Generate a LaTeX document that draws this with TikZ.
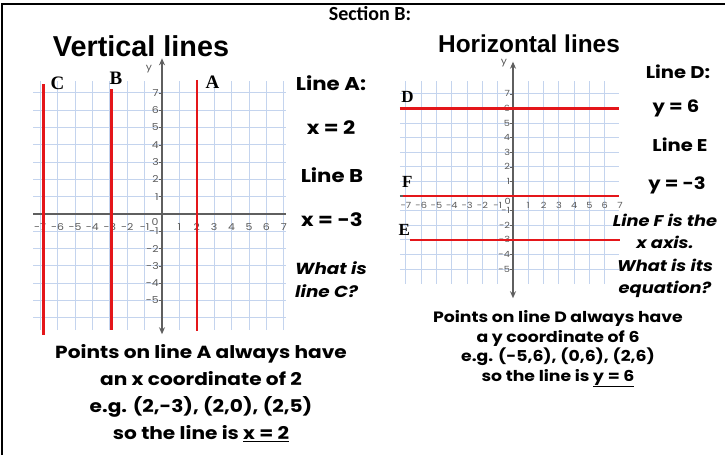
\documentclass[tikz,border=0pt]{standalone}
\usepackage{fontspec}
\setmainfont{Liberation Sans}
\newfontfamily\gothic{Poppins}[FakeStretch=1.15]
\newfontfamily\calib{Carlito}
\newfontfamily\letterfont{Liberation Serif}
\usetikzlibrary{arrows.meta}

\definecolor{gridblue}{RGB}{196,212,238}
\definecolor{plotred}{RGB}{228,22,26}
\definecolor{axisgray}{RGB}{95,95,95}

\tikzset{
  gridline/.style={draw=gridblue, line width=0.9pt},
  axisline/.style={draw=axisgray, line width=1.3pt},
  redline/.style={draw=plotred, line width=2.6pt},
  ticklabel/.style={font=\gothic\fontsize{9.5}{10}\selectfont, text=black!65, inner sep=0.5pt},
  letterlabel/.style={font=\letterfont\bfseries\fontsize{19}{19}\selectfont, inner sep=0pt},
  titletext/.style={font=\bfseries\fontsize{#1}{#1}\selectfont, anchor=base, inner sep=0pt},
  sidetext/.style={font=\gothic\bfseries\fontsize{18.5}{20}\selectfont, inner sep=0pt},
  notetext/.style={font=\gothic\bfseries\fontsize{17.5}{27}\selectfont, align=center, inner sep=0pt},
}

\begin{document}
\begin{tikzpicture}[x=1pt,y=-1pt]
  \useasboundingbox (0,0) rectangle (725,455);
  \draw[line width=2.5pt] (2,455) -- (2,4) -- (725,4);
  \node[font=\calib\bfseries\fontsize{20}{20}\selectfont, anchor=base, inner sep=0pt] (section) at (370,20) {Section B:};

  % vertical lines graph
  \node[titletext=28.8] (vtitle) at (141,56.5) {Vertical lines};
  \begin{scope}[shift={(162,214)}, x=17.4pt, y=17.3pt]
    \foreach \i in {-7,...,7} \draw[gridline] (\i,-6.7) -- (\i,7.7);
    \foreach \j in {-6,...,7} \draw[gridline] (-7.4,\j) -- (7.1,\j);
    \draw[axisline] (-7.4,0) -- (7.1,0);
    \draw[axisline, -{Stealth[length=7pt,width=6pt]}] (0,0) -- (0,9.0);
    \draw[axisline, -{Stealth[length=7pt,width=6pt]}] (0,0) -- (0,-6.95);
    \node[ticklabel] (vy) at (-0.75,8.4) {y};
    \foreach \i in {-7,...,-1,1,2,...,7} \node[ticklabel] at (\i,-0.75) {\i};
    \foreach \j in {-5,...,-1,1,2,...,7} {
      \draw[axisgray, line width=0.6pt] (-0.2,\j) -- (0,\j);
      \node[ticklabel, left] at (-0.15,\j) {\j};
    }
    \node[ticklabel] (vzero) at (-0.4,-0.45) {0};
    \draw[redline] (-6.8,7.5) -- (-6.8,-7.0);
    \draw[redline] (-2.9,7.2) -- (-2.9,-6.7);
    \draw[redline] (2,7.75) -- (2,-6.75);
    \node[letterlabel] (lineC) at (-6.0,7.55) {C};
    \node[letterlabel] (lineB) at (-2.65,7.85) {B};
    \node[letterlabel] (lineA) at (2.9,7.6) {A};
  \end{scope}

  \node[sidetext] (lineAtxt) at (331,83) {Line A:};
  \node[sidetext] (xtwo) at (331,128) {x = 2};
  \node[sidetext] (lineBtxt) at (332,175) {Line B};
  \node[sidetext] (xminus) at (332,220) {x = -3};
  \node[sidetext, font=\gothic\bfseries\itshape\fontsize{16}{20}\selectfont, align=left] (whatC) at (331,280)
    {What is\\[3pt]line C?};

  \node[notetext] (noteA) at (201,393)
    {Points on line A always have\\ an x coordinate of 2\\ e.g. (2,-3), (2,0), (2,5)\\ so the line is \underline{x = 2}};

  % horizontal lines graph
  \node[titletext=24.4] (htitle) at (529,52) {Horizontal lines};
  \begin{scope}[shift={(513,196)}, x=15.3pt, y=14.6pt]
    \foreach \i in {-7,...,6} \draw[gridline] (\i,-6.0) -- (\i,7.9);
    \foreach \j in {-5,...,7} \draw[gridline] (-7.4,\j) -- (6.9,\j);
    \draw[axisline] (-7.4,0) -- (6.9,0);
    \draw[axisline, -{Stealth[length=7pt,width=6pt]}] (0,0) -- (0,9.2);
    \draw[axisline, -{Stealth[length=7pt,width=6pt]}] (0,0) -- (0,-7.0);
    \node[ticklabel] (hy) at (-0.6,9.1) {y};
    \foreach \i in {-7,...,-1,1,2,...,7} \node[ticklabel, font=\gothic\fontsize{8.5}{9}\selectfont] at (\i,-0.65) {\i};
    \foreach \j in {-5,...,-1,1,2,...,7} {
      \draw[axisgray, line width=0.6pt] (-0.2,\j) -- (0,\j);
      \node[ticklabel, left, font=\gothic\fontsize{8.5}{9}\selectfont] at (-0.15,\j) {\j};
    }
    \node[ticklabel, font=\gothic\fontsize{8.5}{9}\selectfont] (hzero) at (-0.35,-0.35) {0};
    \draw[redline] (-7.4,6) -- (6.9,6);
    \draw[redline] (-7.2,0) -- (6.9,0);
    \draw[redline] (-6.7,-3) -- (7.0,-3);
    \node[letterlabel, font=\letterfont\bfseries\fontsize{17}{17}\selectfont] (lineD) at (-6.9,6.8) {D};
    \node[letterlabel, font=\letterfont\bfseries\fontsize{17}{17}\selectfont] (lineF) at (-6.9,0.96) {F};
    \node[letterlabel, font=\letterfont\bfseries\fontsize{17}{17}\selectfont] (lineE) at (-7.1,-2.3) {E};
  \end{scope}

  \node[sidetext, font=\gothic\bfseries\fontsize{17}{20}\selectfont] (lineDtxt) at (678,72) {Line D:};
  \node[sidetext, font=\gothic\bfseries\fontsize{17}{20}\selectfont] (ysix) at (676,108) {y = 6};
  \node[sidetext, font=\gothic\bfseries\fontsize{17}{20}\selectfont] (lineEtxt) at (680,145) {Line E};
  \node[sidetext, font=\gothic\bfseries\fontsize{17}{20}\selectfont] (yminus) at (677,185) {y = -3};
  \node[sidetext, font=\gothic\bfseries\itshape\fontsize{15.5}{22.5}\selectfont, align=center] (whatF) at (665,256)
    {Line F is the\\ x axis.\\ What is its\\ equation?};

  \node[notetext, font=\gothic\bfseries\fontsize{15}{19.5}\selectfont] (noteD) at (558,349)
    {Points on line D always have\\ a y coordinate of 6\\ e.g. (-5,6), (0,6), (2,6)\\ so the line is \underline{y = 6}};
\end{tikzpicture}
\end{document}
